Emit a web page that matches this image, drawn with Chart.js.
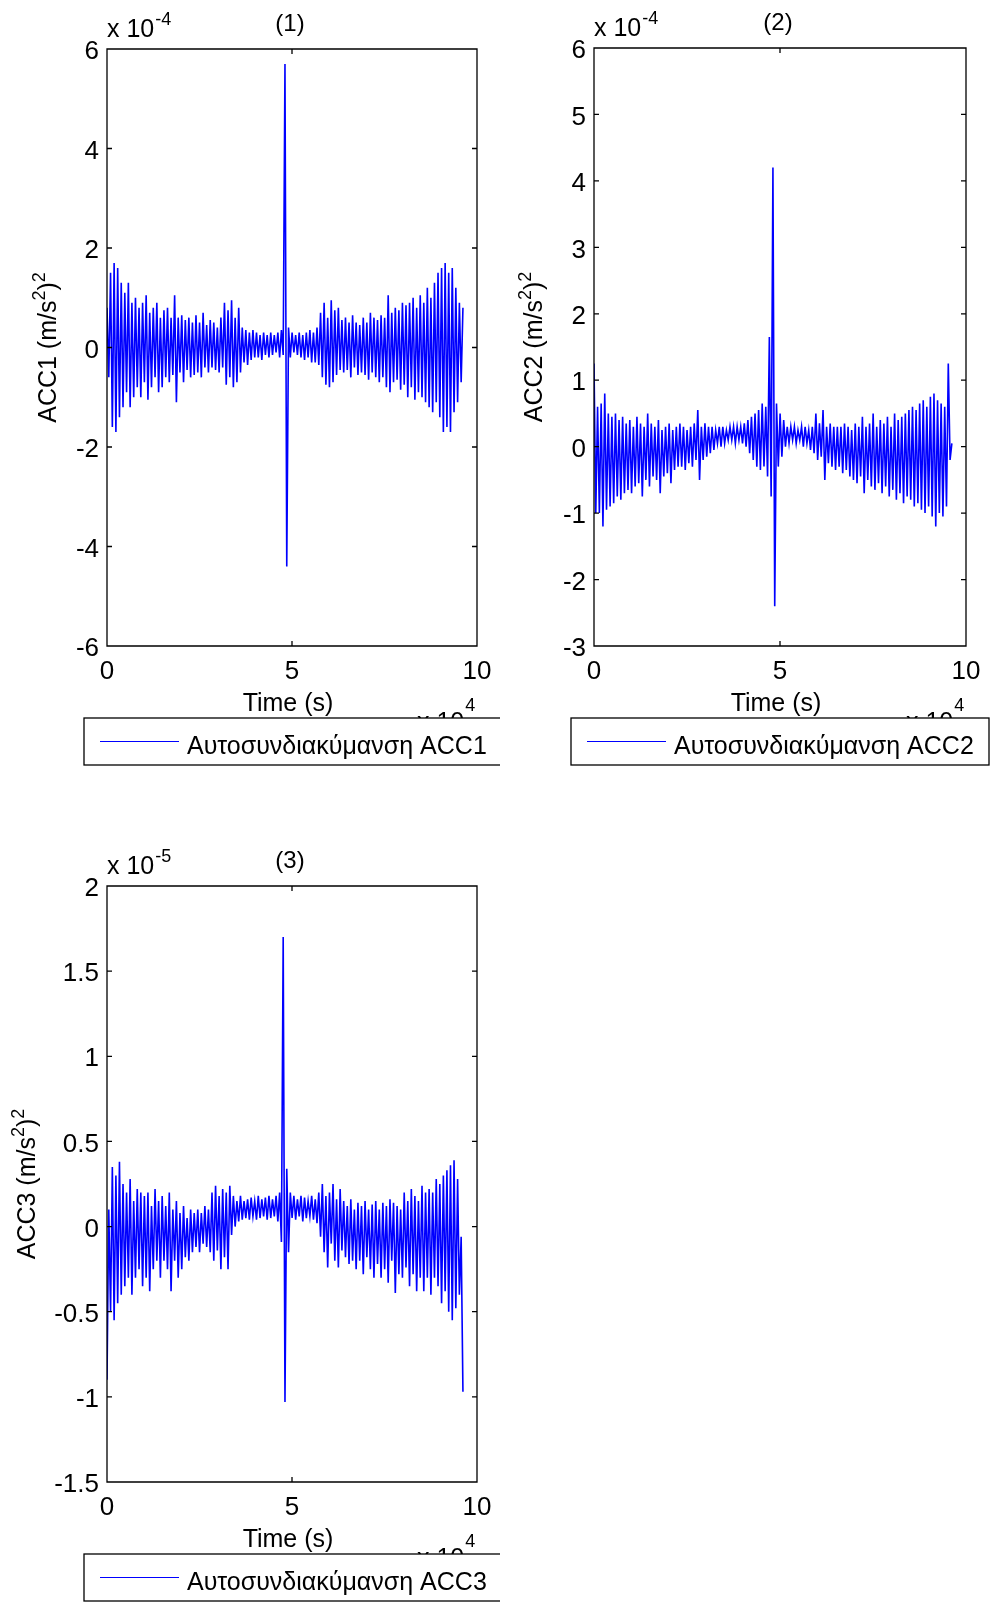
<!DOCTYPE html>
<html>
<head>
<meta charset="utf-8">
<script src="https://cdn.jsdelivr.net/npm/chart.js@4.4.0/dist/chart.umd.min.js"></script>
<style>
body{margin:0;background:#fff;width:993px;height:1602px;position:relative;overflow:hidden}
canvas{position:absolute}
</style>
</head>
<body>
<canvas id="c1" width="500" height="780" style="left:0;top:0"></canvas>
<canvas id="c2" width="488" height="780" style="left:505px;top:0"></canvas>
<canvas id="c3" width="500" height="782" style="left:0;top:820px"></canvas>
<script>
// τελευταία υστέρηση (s) - οι τιμές είναι ισαπέχουσες από 0 έως εκεί
const tEnd = 96200;

// x tick values (s) and y tick values of each panel
const xTicks = [0, 50000, 100000];
const yTicks1 = [-6, -4, -2, 0, 2, 4, 6];
const yTicks2 = [-3, -2, -1, 0, 1, 2, 3, 4, 5, 6];
const yTicks3 = [-1.5, -1, -0.5, 0, 0.5, 1, 1.5, 2];

// ACC1, in units of 1e-4
const acc1 = [
  0.8, -0.6, 1.5, -1.6, 1.7, -1.7, 1.6, -1.4, 1.3, -1.2,
  1.1, -0.9, 1.3, -1.2, 0.9, -1.0, 1.0, -0.8, 0.8, -1.0,
  0.9, -0.7, 1.05, -1.05, 0.7, -0.8, 0.8, -0.6, 0.9, -0.9,
  0.6, -0.8, 0.75, -0.6, 0.8, -0.7, 0.6, -0.55, 1.05, -1.1,
  0.6, -0.5, 0.65, -0.7, 0.55, -0.45, 0.6, -0.6, 0.5, -0.55,
  0.65, -0.5, 0.5, -0.6, 0.7, -0.4, 0.45, -0.5, 0.55, -0.4,
  0.5, -0.45, 0.4, -0.5, 0.6, -0.4, 0.9, -0.75, 0.75, -0.6,
  0.95, -0.8, 0.6, -0.7, 0.8, -0.5, 0.4, -0.3, 0.35, -0.35,
  0.3, -0.25, 0.35, -0.2, 0.3, -0.2, 0.25, -0.25, 0.3, -0.15,
  0.25, -0.2, 0.3, -0.15, 0.25, -0.1, 0.3, -0.2, 0.35, -0.15,
  5.7, -4.4, 0.4, -0.2, 0.3, -0.1, 0.25, -0.15, 0.3, -0.2,
  0.25, -0.25, 0.3, -0.2, 0.35, -0.3, 0.3, -0.3, 0.4, -0.35,
  0.7, -0.6, 0.9, -0.75, 0.6, -0.8, 0.95, -0.7, 0.75, -0.55,
  0.8, -0.45, 0.55, -0.5, 0.6, -0.45, 0.5, -0.6, 0.65, -0.4,
  0.5, -0.55, 0.45, -0.5, 0.6, -0.55, 0.5, -0.65, 0.7, -0.5,
  0.6, -0.6, 0.55, -0.7, 0.65, -0.6, 0.6, -0.8, 1.05, -0.9,
  0.7, -0.7, 0.8, -0.65, 0.75, -0.85, 0.9, -0.75, 0.85, -1.0,
  0.9, -0.8, 1.0, -1.05, 0.8, -0.9, 1.05, -1.0, 0.9, -1.1,
  1.2, -1.2, 1.0, -1.3, 1.3, -1.1, 1.5, -1.4, 1.6, -1.7,
  1.7, -1.6, 1.5, -1.7, 1.6, -1.3, 1.2, -1.1, 0.9, -0.7,
  0.8
];

// ACC2, in units of 1e-4
const acc2 = [
  1.25, -1.0, 0.6, -1.0, 0.65, -1.2, 0.8, -0.95, 0.5, -0.9,
  0.45, -0.85, 0.5, -0.75, 0.4, -0.8, 0.45, -0.7, 0.35, -0.65,
  0.4, -0.7, 0.3, -0.6, 0.45, -0.55, 0.35, -0.75, 0.3, -0.5,
  0.5, -0.6, 0.35, -0.45, 0.3, -0.5, 0.4, -0.7, 0.25, -0.45,
  0.3, -0.4, 0.35, -0.55, 0.25, -0.35, 0.3, -0.3, 0.35, -0.3,
  0.3, -0.35, 0.25, -0.25, 0.3, -0.3, 0.35, -0.2, 0.55, -0.5,
  0.3, -0.2, 0.35, -0.15, 0.3, -0.1, 0.3, -0.05, 0.25, 0.05,
  0.3, 0.0, 0.3, 0.05, 0.25, 0.1, 0.3, 0.1, 0.3, 0.05,
  0.3, 0.1, 0.3, 0.05, 0.35, 0.0, 0.4, -0.1, 0.45, -0.2,
  0.5, -0.3, 0.55, -0.35, 0.65, -0.3, 0.6, -0.45, 1.65, -0.75,
  4.2, -2.4, 0.65, -0.3, 0.5, -0.15, 0.4, 0.0, 0.3, 0.05,
  0.3, 0.1, 0.3, 0.05, 0.25, 0.1, 0.3, 0.0, 0.3, 0.05,
  0.25, -0.05, 0.3, -0.1, 0.5, -0.2, 0.35, -0.15, 0.55, -0.5,
  0.3, -0.25, 0.35, -0.3, 0.3, -0.35, 0.3, -0.3, 0.3, -0.4,
  0.35, -0.35, 0.3, -0.45, 0.25, -0.5, 0.35, -0.55, 0.3, -0.45,
  0.45, -0.7, 0.3, -0.5, 0.35, -0.6, 0.5, -0.65, 0.3, -0.55,
  0.4, -0.7, 0.35, -0.6, 0.45, -0.75, 0.3, -0.65, 0.5, -0.8,
  0.4, -0.7, 0.45, -0.85, 0.5, -0.75, 0.55, -0.8, 0.6, -0.9,
  0.55, -0.85, 0.65, -0.95, 0.7, -1.0, 0.6, -0.9, 0.75, -1.05,
  0.8, -1.2, 0.7, -1.0, 0.65, -1.05, 0.6, -0.9, 1.25, -0.2,
  0.05
];

// ACC3, in units of 1e-5
const acc3 = [
  -0.9, 0.1, -0.5, 0.35, -0.55, 0.3, -0.45, 0.38, -0.4, 0.25,
  -0.35, 0.2, -0.3, 0.28, -0.4, 0.15, -0.3, 0.22, -0.25, 0.2,
  -0.35, 0.18, -0.3, 0.2, -0.38, 0.12, -0.25, 0.22, -0.2, 0.15,
  -0.3, 0.18, -0.2, 0.12, -0.25, 0.2, -0.38, 0.1, -0.2, 0.15,
  -0.3, 0.08, -0.25, 0.12, -0.18, 0.05, -0.2, 0.1, -0.15, 0.08,
  -0.12, 0.1, -0.15, 0.08, -0.1, 0.12, -0.12, 0.1, -0.15, 0.2,
  -0.2, 0.24, -0.14, 0.18, -0.25, 0.22, -0.18, 0.2, -0.25, 0.24,
  -0.05, 0.18, 0.0, 0.15, 0.03, 0.18, 0.04, 0.15, 0.05, 0.16,
  0.04, 0.17, 0.06, 0.15, 0.04, 0.18, 0.05, 0.16, 0.06, 0.17,
  0.04, 0.18, 0.05, 0.16, 0.06, 0.18, 0.03, 0.2, -0.09, 1.7,
  -1.03, 0.34, -0.15, 0.2, 0.05, 0.18, 0.04, 0.16, 0.06, 0.18,
  0.03, 0.17, 0.05, 0.15, 0.06, 0.18, 0.04, 0.16, 0.02, 0.2,
  -0.06, 0.25, -0.15, 0.18, -0.24, 0.2, -0.1, 0.25, -0.2, 0.16,
  -0.24, 0.22, -0.14, 0.15, -0.18, 0.12, -0.22, 0.16, -0.2, 0.1,
  -0.25, 0.14, -0.2, 0.12, -0.28, 0.15, -0.18, 0.1, -0.25, 0.13,
  -0.3, 0.15, -0.22, 0.1, -0.3, 0.14, -0.25, 0.12, -0.33, 0.16,
  -0.2, 0.14, -0.39, 0.12, -0.28, 0.1, -0.3, 0.2, -0.24, 0.15,
  -0.35, 0.22, -0.28, 0.18, -0.38, 0.15, -0.3, 0.24, -0.38, 0.2,
  -0.3, 0.22, -0.4, 0.2, -0.3, 0.28, -0.35, 0.25, -0.45, 0.3,
  -0.38, 0.33, -0.5, 0.36, -0.55, 0.39, -0.48, 0.28, -0.4, -0.06,
  -0.97
];

const FONT = '"Liberation Sans", Arial, sans-serif';

//matlab-artiges aussehen: rahmen, ticks nach innen, texte, legende
const matlabLook = {
  id: 'matlab',
  afterDraw(chart, args, o) {
    const ctx = chart.ctx;
    const a = chart.chartArea;
    const xs = chart.scales.x, ys = chart.scales.y;
    const cx = (a.left + a.right) / 2;
    ctx.save();

    // box + inward ticks on all four sides
    ctx.strokeStyle = '#000';
    ctx.lineWidth = 1.3;
    ctx.beginPath();
    ctx.rect(a.left, a.top, a.right - a.left, a.bottom - a.top);
    xs.ticks.forEach(t => {
      const p = xs.getPixelForValue(t.value);
      ctx.moveTo(p, a.bottom); ctx.lineTo(p, a.bottom - 5);
      ctx.moveTo(p, a.top); ctx.lineTo(p, a.top + 5);
    });
    ys.ticks.forEach(t => {
      const p = ys.getPixelForValue(t.value);
      ctx.moveTo(a.left, p); ctx.lineTo(a.left + 5, p);
      ctx.moveTo(a.right, p); ctx.lineTo(a.right - 5, p);
    });
    ctx.stroke();

    ctx.fillStyle = '#000';
    // title
    ctx.font = '24px ' + FONT;
    ctx.textAlign = 'center';
    ctx.textBaseline = 'middle';
    ctx.fillText(o.title, cx - 2, a.top - 25);
    // x label
    ctx.font = '25px ' + FONT;
    ctx.fillText('Time (s)', cx - 4, a.bottom + 58);

    // exponent labels
    ctx.textAlign = 'left';
    ctx.textBaseline = 'alphabetic';
    ctx.font = '25px ' + FONT;
    let w = ctx.measureText('x 10').width;
    ctx.fillText('x 10', a.left, a.top - 12);
    ctx.fillText('x 10', a.right - 60, a.bottom + 84);
    ctx.font = '18px ' + FONT;
    ctx.fillText(o.yExp, a.left + w + 1, a.top - 24);
    ctx.fillText('4', a.right - 60 + w + 1, a.bottom + 65);

    // y label, rotated, with superscripts
    ctx.save();
    ctx.translate(a.left + o.ylabX, (a.top + a.bottom) / 2 + (o.ylabDy || 0));
    ctx.rotate(-Math.PI / 2);
    const segs = o.ylabel;
    let total = 0;
    segs.forEach(s => {
      ctx.font = (s.sup ? '18px ' : '25px ') + FONT;
      total += ctx.measureText(s.t).width;
    });
    let px = -total / 2;
    segs.forEach(s => {
      ctx.font = (s.sup ? '18px ' : '25px ') + FONT;
      ctx.fillText(s.t, px, s.sup ? -11 : 0);
      px += ctx.measureText(s.t).width;
    });
    ctx.restore();

    // legend box
    const ds = chart.data.datasets[0];
    const lx = a.left - 23, ly = a.bottom + 72, lw = 418, lh = 47;
    ctx.fillStyle = '#fff';
    ctx.fillRect(lx, ly, lw, lh);
    ctx.strokeStyle = '#000';
    ctx.lineWidth = 1.3;
    ctx.strokeRect(lx, ly, lw, lh);
    ctx.strokeStyle = ds.borderColor;
    ctx.lineWidth = 1;
    ctx.beginPath();
    ctx.moveTo(lx + 16, ly + lh / 2);
    ctx.lineTo(lx + 95, ly + lh / 2);
    ctx.stroke();
    ctx.fillStyle = '#000';
    ctx.font = '25px ' + FONT;
    ctx.textBaseline = 'middle';
    ctx.fillText(ds.label, lx + 103, ly + lh / 2 + 6);
    ctx.restore();
  }
};

function makeChart(id, values, yTicks, cfg) {
  const pts = values.map((v, i) => ({ x: i * tEnd / (values.length - 1), y: v }));
  const tickFont = { family: FONT, size: 26 };
  return new Chart(document.getElementById(id), {
    type: 'line',
    data: {
      datasets: [{
        label: cfg.label,
        data: pts,
        borderColor: '#0000ff',
        borderWidth: 1.6,
        pointRadius: 0,
        tension: 0,
        fill: false
      }]
    },
    options: {
      responsive: false,
      animation: false,
      devicePixelRatio: 1,
      layout: { padding: cfg.padding },
      plugins: {
        legend: { display: false },
        tooltip: { enabled: false },
        matlab: cfg.deco
      },
      scales: {
        x: {
          type: 'linear',
          min: 0,
          max: 100000,
          afterBuildTicks: s => { s.ticks = xTicks.map(v => ({ value: v })); },
          afterFit: s => { s.height = cfg.xh; s.paddingLeft = 0; s.paddingRight = 0; },
          grid: { display: false, drawTicks: false },
          border: { display: false },
          ticks: { color: '#000', font: tickFont, padding: 10, maxRotation: 0, callback: v => String(v / 1e4) }
        },
        y: {
          type: 'linear',
          min: yTicks[0],
          max: yTicks[yTicks.length - 1],
          afterBuildTicks: s => { s.ticks = yTicks.map(v => ({ value: v })); },
          afterFit: s => { s.width = cfg.yw; s.paddingTop = 0; s.paddingBottom = 0; },
          grid: { display: false, drawTicks: false },
          border: { display: false },
          ticks: { color: '#000', font: tickFont, padding: 8, labelOffset: 3, callback: v => String(v) }
        }
      }
    },
    plugins: [matlabLook]
  });
}

makeChart('c1', acc1, yTicks1, {
  label: 'Αυτοσυνδιακύμανση ACC1',
  padding: { left: 0, top: 49, right: 23, bottom: 0 },
  yw: 107, xh: 134,
  deco: { title: '(1)', yExp: '-4', ylabX: -51,
    ylabel: [{ t: 'ACC1 (m/s' }, { t: '2', sup: true }, { t: ')' }, { t: '2', sup: true }] }
});

makeChart('c2', acc2, yTicks2, {
  label: 'Αυτοσυνδιακύμανση ACC2',
  padding: { left: 0, top: 48, right: 27, bottom: 0 },
  yw: 89, xh: 134,
  deco: { title: '(2)', yExp: '-4', ylabX: -52,
    ylabel: [{ t: 'ACC2 (m/s' }, { t: '2', sup: true }, { t: ')' }, { t: '2', sup: true }] }
});

makeChart('c3', acc3, yTicks3, {
  label: 'Αυτοσυνδιακύμανση ACC3',
  padding: { left: 0, top: 66, right: 23, bottom: 0 },
  yw: 107, xh: 120,
  deco: { title: '(3)', yExp: '-5', ylabX: -72, ylabDy: 0,
    ylabel: [{ t: 'ACC3 (m/s' }, { t: '2', sup: true }, { t: ')' }, { t: '2', sup: true }] }
});
</script>
</body>
</html>
